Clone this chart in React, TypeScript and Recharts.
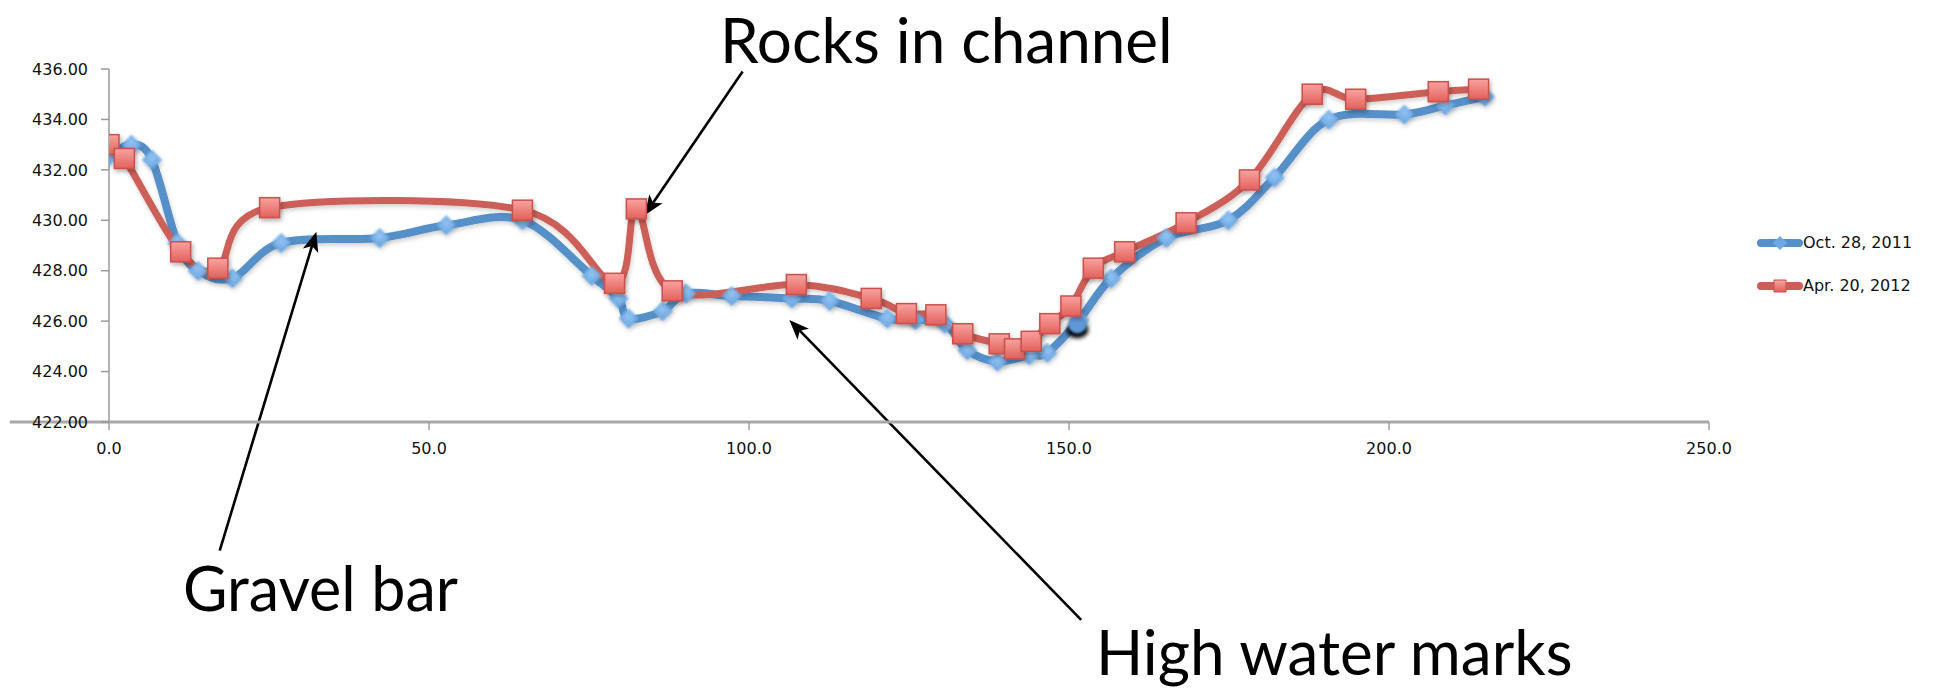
import { LineChart, Line, XAxis, YAxis, ReferenceLine, ReferenceDot } from "recharts";

// Channel cross-section survey: distance (x) vs elevation (y)
const octX = [0, 3.5, 6.7, 10.7, 13.9, 19.3, 26.9, 42.3, 52.7, 64.6, 75.4, 79.6, 81.2, 86.5, 90.2, 97.3, 106.7, 112.6, 121.6, 126.0, 130.6, 134.1, 138.8, 143.8, 146.6, 151.6, 156.6, 165.2, 174.9, 182.1, 190.6, 202.4, 208.8, 215.0];
const octY = [432.55, 433.0, 432.4, 429.1, 428.0, 427.7, 429.1, 429.3, 429.8, 430.0, 427.8, 426.9, 426.1, 426.4, 427.1, 427.0, 426.9, 426.8, 426.1, 426.05, 425.9, 424.85, 424.4, 424.65, 424.75, 426.05, 427.7, 429.3, 430.0, 431.7, 434.0, 434.2, 434.55, 434.9];

const aprX = [0, 2.4, 11.2, 17.0, 25.1, 64.6, 79.0, 82.4, 88.0, 107.4, 119.1, 124.6, 129.2, 133.4, 139.1, 141.5, 144.1, 147.0, 150.3, 153.8, 158.7, 168.3, 178.2, 188.0, 194.8, 207.7, 214.0];
const aprY = [433.0, 432.45, 428.75, 428.1, 430.5, 430.4, 427.5, 430.45, 427.2, 427.45, 426.9, 426.3, 426.25, 425.5, 425.1, 424.9, 425.2, 425.9, 426.6, 428.1, 428.75, 429.9, 431.6, 435.0, 434.8, 435.1, 435.2];

const seriesNames = ["Oct. 28, 2011", "Apr. 20, 2012"];
const xTicks = [0, 50, 100, 150, 200, 250];
const yTicks = [422, 424, 426, 428, 430, 432, 434, 436];

// callout arrows: [tailX, tailY, tipX, tipY] in chart units
const arrowRocks = [99.0, 435.9, 83.7, 430.2];
const arrowGravel = [17.3, 416.9, 32.4, 429.55];
const arrowHighWater = [151.9, 414.15, 106.3, 426.05];
const strayPoint = [151.3, 425.8];

const octRows = octX.map((x, i) => ({ x, y: octY[i] }));
const aprRows = aprX.map((x, i) => ({ x, y: aprY[i] }));

const BLUE = "#5690C9";
const RED = "#CC5E59";
const SMALL_FONT = "'DejaVu Sans', sans-serif";
const CALLOUT_FONT = "Lato, 'Open Sans', sans-serif";

// Excel-style smoothed scatter line (Catmull-Rom through every point)
function excelSmooth(context: any) {
  let xs: number[] = [];
  let ys: number[] = [];
  return {
    areaStart() {},
    areaEnd() {},
    lineStart() {
      xs = [];
      ys = [];
    },
    point(x: number, y: number) {
      xs.push(+x);
      ys.push(+y);
    },
    lineEnd() {
      const n = xs.length;
      if (!n) return;
      context.moveTo(xs[0], ys[0]);
      for (let i = 0; i < n - 1; i++) {
        const a = Math.max(i - 1, 0);
        const d = Math.min(i + 2, n - 1);
        context.bezierCurveTo(
          xs[i] + (xs[i + 1] - xs[a]) / 6,
          ys[i] + (ys[i + 1] - ys[a]) / 6,
          xs[i + 1] - (xs[d] - xs[i]) / 6,
          ys[i + 1] - (ys[d] - ys[i]) / 6,
          xs[i + 1],
          ys[i + 1]
        );
      }
    },
  };
}

const DiamondDot = (props: any) => {
  const { cx, cy, index } = props;
  if (cx == null || cy == null) return null;
  const r = 10;
  return (
    <polygon
      key={`d-${index}`}
      points={`${cx},${cy - r} ${cx + r},${cy} ${cx},${cy + r} ${cx - r},${cy}`}
      fill="url(#blueDot)"
      filter="url(#softDot)"
    />
  );
};

const SquareDot = (props: any) => {
  const { cx, cy, index } = props;
  if (cx == null || cy == null) return null;
  return (
    <rect
      key={`s-${index}`}
      x={cx - 10}
      y={cy - 10}
      width={20}
      height={20}
      fill="url(#redSquare)"
      stroke="#C9514C"
      strokeWidth={1.5}
      filter="url(#dropShadow)"
    />
  );
};

const Arrow = (props: any) => {
  const { x1, y1, x2, y2 } = props;
  if ([x1, y1, x2, y2].some((v) => v == null || isNaN(v))) return null;
  const len = Math.hypot(x2 - x1, y2 - y1);
  const ux = (x2 - x1) / len;
  const uy = (y2 - y1) / len;
  const headL = 20;
  const headW = 8;
  const bx = x2 - ux * headL;
  const by = y2 - uy * headL;
  const nx = x2 - ux * headL * 0.75;
  const ny = y2 - uy * headL * 0.75;
  return (
    <g>
      <line x1={x1} y1={y1} x2={nx} y2={ny} stroke="#000" strokeWidth={2.6} />
      <polygon
        points={`${x2},${y2} ${bx - uy * headW},${by + ux * headW} ${nx},${ny} ${bx + uy * headW},${by - ux * headW}`}
        fill="#000"
      />
    </g>
  );
};

const StrayDot = (props: any) => {
  const { cx, cy } = props;
  if (cx == null || cy == null) return null;
  return (
    <g>
      <ellipse cx={cx} cy={cy + 4} rx={11} ry={8} fill="#000" filter="url(#blurLight)" />
      <circle cx={cx} cy={cy - 2} r={9} fill="#5E98D6" filter="url(#softDot)" />
    </g>
  );
};

const LegendIcon = ({ color, square }: { color: string; square: boolean }) => (
  <svg width={46} height={16} style={{ display: "block" }}>
    <line x1={4} y1={8} x2={42} y2={8} stroke={color} strokeWidth={8} strokeLinecap="round" />
    {square ? (
      <rect x={17} y={2} width={12} height={12} fill="url(#redSquare)" stroke="#C9514C" strokeWidth={1} />
    ) : (
      <polygon points="23,1 30,8 23,15 16,8" fill="#6EA8E4" />
    )}
  </svg>
);

export default function App() {
  const seg = (a: number[]) => [
    { x: a[0], y: a[1] },
    { x: a[2], y: a[3] },
  ];
  return (
    <div style={{ position: "absolute", left: 0, top: 0, width: 1940, height: 689, background: "#fff" }}>
      <svg width={0} height={0} style={{ position: "absolute" }}>
        <defs>
          <linearGradient id="redSquare" x1="0" y1="0" x2="0" y2="1">
            <stop offset="0%" stopColor="#F9A3A0" />
            <stop offset="100%" stopColor="#E2605B" />
          </linearGradient>
          <radialGradient id="blueDot" cx="50%" cy="40%" r="60%">
            <stop offset="0%" stopColor="#93C3F2" />
            <stop offset="100%" stopColor="#62A0DE" />
          </radialGradient>
          <filter id="dropShadow" x="-40%" y="-40%" width="200%" height="200%">
            <feDropShadow dx="1.5" dy="2.5" stdDeviation="2" floodColor="#000" floodOpacity="0.3" />
          </filter>
          <filter id="softDot" x="-50%" y="-50%" width="200%" height="200%">
            <feGaussianBlur in="SourceGraphic" stdDeviation="1.1" result="b" />
            <feDropShadow in="b" dx="1" dy="2" stdDeviation="2" floodColor="#000" floodOpacity="0.25" />
          </filter>
          <filter id="lineShadow" x="-5%" y="-20%" width="110%" height="140%">
            <feDropShadow dx="1" dy="2.5" stdDeviation="2" floodColor="#000" floodOpacity="0.18" />
          </filter>
          <filter id="blurLight" x="-50%" y="-50%" width="200%" height="200%">
            <feGaussianBlur stdDeviation="2" />
          </filter>
        </defs>
      </svg>

      <LineChart width={1940} height={689} margin={{ top: 69, right: 231, bottom: 237, left: 9 }}>
        <XAxis
          type="number"
          dataKey="x"
          domain={[0, 250]}
          ticks={xTicks}
          tickFormatter={(v: number) => v.toFixed(1)}
          allowDataOverflow
          height={30}
          tickSize={8}
          tickMargin={13}
          axisLine={{ stroke: "#A8A8A8", strokeWidth: 3 }}
          tickLine={{ stroke: "#A0A0A0", strokeWidth: 1.5 }}
          tick={{ fill: "#111", fontSize: 16, fontFamily: SMALL_FONT }}
        />
        <YAxis
          type="number"
          dataKey="y"
          domain={[422, 436]}
          ticks={yTicks}
          tickFormatter={(v: number) => v.toFixed(2)}
          allowDataOverflow
          width={100}
          tickSize={8}
          tickMargin={13}
          axisLine={{ stroke: "#9A9A9A", strokeWidth: 1.5 }}
          tickLine={{ stroke: "#9A9A9A", strokeWidth: 1.5 }}
          tick={{ fill: "#111", fontSize: 16, fontFamily: SMALL_FONT }}
        />
        <ReferenceLine
          ifOverflow="visible"
          segment={[
            { x: -15.5, y: 422 },
            { x: 0, y: 422 },
          ]}
          stroke="#A8A8A8"
          strokeWidth={3}
        />
        <Line
          data={octRows}
          dataKey="y"
          name={seriesNames[0]}
          type={excelSmooth as any}
          stroke={BLUE}
          strokeWidth={8}
          dot={<DiamondDot />}
          activeDot={false}
          filter="url(#lineShadow)"
          isAnimationActive={false}
        />
        <ReferenceDot ifOverflow="visible" x={strayPoint[0]} y={strayPoint[1]} shape={<StrayDot />} />
        <Line
          data={aprRows}
          dataKey="y"
          name={seriesNames[1]}
          type={excelSmooth as any}
          stroke={RED}
          strokeWidth={7}
          dot={<SquareDot />}
          activeDot={false}
          filter="url(#lineShadow)"
          isAnimationActive={false}
        />
        <ReferenceLine ifOverflow="visible" segment={seg(arrowRocks)} shape={<Arrow />} />
        <ReferenceLine ifOverflow="visible" segment={seg(arrowGravel)} shape={<Arrow />} />
        <ReferenceLine ifOverflow="visible" segment={seg(arrowHighWater)} shape={<Arrow />} />
      </LineChart>

      <div style={{ position: "absolute", left: 720, top: 2, fontFamily: CALLOUT_FONT, fontSize: 62, lineHeight: "74px", whiteSpace: "nowrap" }}>
        Rocks in channel
      </div>
      <div style={{ position: "absolute", left: 183, top: 553, fontFamily: CALLOUT_FONT, fontSize: 61, lineHeight: "70px", whiteSpace: "nowrap" }}>
        Gravel bar
      </div>
      <div style={{ position: "absolute", left: 1096, top: 616, fontFamily: CALLOUT_FONT, fontSize: 62, lineHeight: "70px", whiteSpace: "nowrap" }}>
        High water marks
      </div>

      <div style={{ position: "absolute", left: 1757, top: 233, fontFamily: SMALL_FONT, fontSize: 16, color: "#111" }}>
        {seriesNames.map((name, i) => (
          <div key={name} style={{ display: "flex", alignItems: "center", height: 19, marginBottom: i === 0 ? 24 : 0 }}>
            <LegendIcon color={i === 0 ? BLUE : RED} square={i === 1} />
            <span style={{ whiteSpace: "nowrap" }}>{name}</span>
          </div>
        ))}
      </div>
    </div>
  );
}
